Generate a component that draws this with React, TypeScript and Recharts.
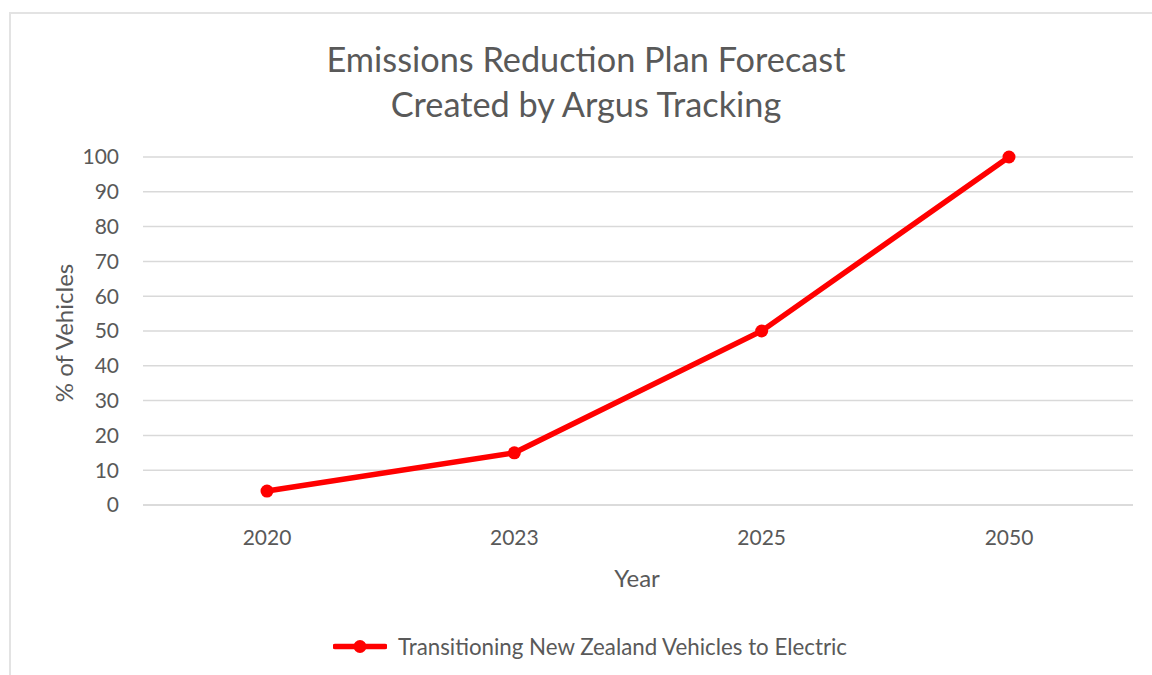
import { CartesianGrid, Line, LineChart, XAxis, YAxis } from "recharts";

const YEARS = ["2020", "2023", "2025", "2050"];
const EV_SHARE = [4, 15, 50, 100];
const Y_TICKS = [0, 10, 20, 30, 40, 50, 60, 70, 80, 90, 100];
const TITLE_LINES = ["Emissions Reduction Plan Forecast", "Created by Argus Tracking"];
const SERIES_NAME = "Transitioning New Zealand Vehicles to Electric";

const FONT = "Lato, 'Noto Sans', sans-serif";
const TEXT = "#595959";
const GRID = "#d9d9d9";
const RED = "#ff0000";

const TICK_STYLE = { fill: TEXT, fontSize: 21, fontFamily: FONT };

export default function App() {
  const data = YEARS.map((year, i) => ({ year, share: EV_SHARE[i] }));

  return (
    <div
      style={{
        position: "absolute",
        left: 0,
        top: 0,
        width: 1152,
        height: 675,
        background: "#fff",
        fontFamily: FONT,
        color: TEXT,
        overflow: "hidden",
      }}
    >
      {/* chart frame, only top and left edges are in view */}
      <div
        style={{
          position: "absolute",
          left: 9,
          top: 12,
          width: 1200,
          height: 700,
          borderTop: `2px solid #e3e3e3`,
          borderLeft: `2px solid #e3e3e3`,
        }}
      />

      <div
        style={{
          position: "absolute",
          left: 0,
          top: 36,
          width: 1172,
          textAlign: "center",
          fontSize: 34.3,
          lineHeight: "45px",
        }}
      >
        {TITLE_LINES.map((t) => (
          <div key={t}>{t}</div>
        ))}
      </div>

      <LineChart
        width={1152}
        height={675}
        data={data}
        margin={{ top: 157, right: 19, left: 0, bottom: 140 }}
        style={{ position: "absolute", left: 0, top: 0 }}
      >
        <CartesianGrid stroke={GRID} strokeWidth={1.5} vertical={false} />
        <XAxis
          dataKey="year"
          height={30}
          padding={{ left: 124, right: 124 }}
          tick={TICK_STYLE}
          tickLine={false}
          tickSize={0}
          tickMargin={25}
          axisLine={{ stroke: GRID, strokeWidth: 1.5 }}
        />
        <YAxis
          width={143}
          domain={[0, 100]}
          ticks={Y_TICKS}
          tick={TICK_STYLE}
          tickLine={false}
          tickSize={0}
          tickMargin={24}
          axisLine={false}
        />
        <Line
          type="linear"
          dataKey="share"
          name={SERIES_NAME}
          stroke={RED}
          strokeWidth={5.5}
          dot={{ r: 6.5, fill: RED, stroke: "none" }}
          activeDot={false}
          isAnimationActive={false}
        />
      </LineChart>

      <div
        style={{
          position: "absolute",
          left: 63,
          top: 333,
          fontSize: 24,
          transform: "translate(-50%, -50%) rotate(-90deg)",
          whiteSpace: "nowrap",
        }}
      >
        % of Vehicles
      </div>

      <div
        style={{
          position: "absolute",
          left: 637,
          top: 577,
          fontSize: 24,
          transform: "translate(-50%, -50%)",
          whiteSpace: "nowrap",
        }}
      >
        Year
      </div>

      <div
        style={{
          position: "absolute",
          left: 333,
          top: 646,
          transform: "translateY(-50%)",
          display: "flex",
          alignItems: "center",
          gap: 11,
          fontSize: 22.3,
          whiteSpace: "nowrap",
        }}
      >
        <svg width={54} height={14}>
          <line x1={2} y1={7} x2={52} y2={7} stroke={RED} strokeWidth={5.5} strokeLinecap="round" />
          <circle cx={27} cy={7} r={6.5} fill={RED} />
        </svg>
        {SERIES_NAME}
      </div>
    </div>
  );
}
